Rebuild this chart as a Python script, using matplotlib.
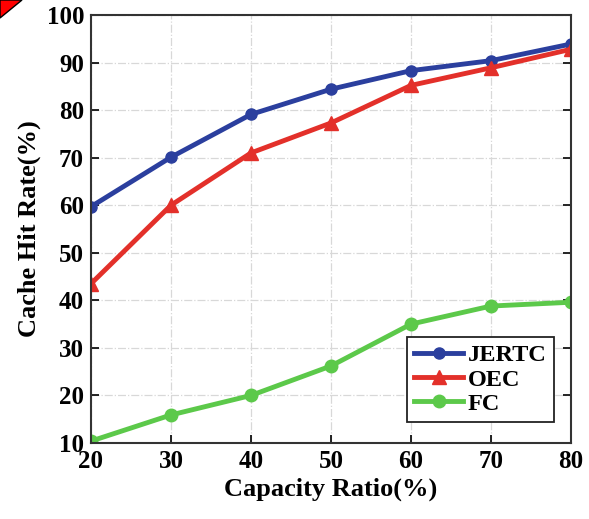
import matplotlib
matplotlib.use("Agg")
import matplotlib.pyplot as plt
from matplotlib.patches import Polygon

plt.rcParams["font.family"] = ["Liberation Serif", "DejaVu Serif"]
plt.rcParams["font.weight"] = "bold"

ratio = [20, 30, 40, 50, 60, 70, 80]
jertc = [59.7, 70.1, 79.1, 84.4, 88.3, 90.4, 93.9]
oec = [43.5, 60.0, 71.0, 77.3, 85.2, 88.9, 92.8]
fc = [10.4, 15.9, 20.0, 26.2, 35.0, 38.8, 39.6]

fig = plt.figure(figsize=(5.89, 5.19), dpi=100)
ax = fig.add_axes([91/589, 76/519, 480/589, 428/519])

ax.plot(ratio, jertc, color="#2b3f9e", lw=3.5, marker="o", ms=8, label="JERTC")
ax.plot(ratio, oec, color="#e3302a", lw=3.5, marker="^", ms=10.5, label="OEC")
ax.plot(ratio, fc, color="#5cc94a", lw=3.5, marker="o", ms=9, label="FC")

ax.set_xlim(20, 80); ax.set_ylim(10, 100)
ax.set_xticks(ratio); ax.set_yticks(range(10, 101, 10))
ax.grid(True, color="#d8d8d8", ls="-.", lw=0.9)
ax.tick_params(direction="in", length=6, width=1.2, labelsize=18, top=False, right=True, pad=5)
for lab in ax.get_xticklabels() + ax.get_yticklabels():
    lab.set_fontweight("bold")
for s in ax.spines.values():
    s.set_linewidth(1.5); s.set_color("#333333")
ax.set_xlabel("Capacity Ratio(%)", fontsize=19, fontweight="bold", labelpad=3)
ax.set_ylabel("Cache Hit Rate(%)", fontsize=19, fontweight="bold", labelpad=4)

leg = ax.legend(loc="lower right", bbox_to_anchor=(0.99, 0.02), fontsize=17.5, handlelength=2.0,
                handletextpad=0.2, borderpad=0.3, labelspacing=0.1, fancybox=False, framealpha=1)
leg.get_frame().set_edgecolor("#222222"); leg.get_frame().set_linewidth(1.3)
for t in leg.get_texts():
    t.set_fontweight("bold")

# red corner mark from the source image
fig.patches.append(Polygon([[0, 1], [22/589, 1], [0, 1 - 18/519]], closed=True, transform=fig.transFigure,
                           facecolor="#ff0000", edgecolor="black", lw=1))

fig.savefig("out.png", dpi=100)
